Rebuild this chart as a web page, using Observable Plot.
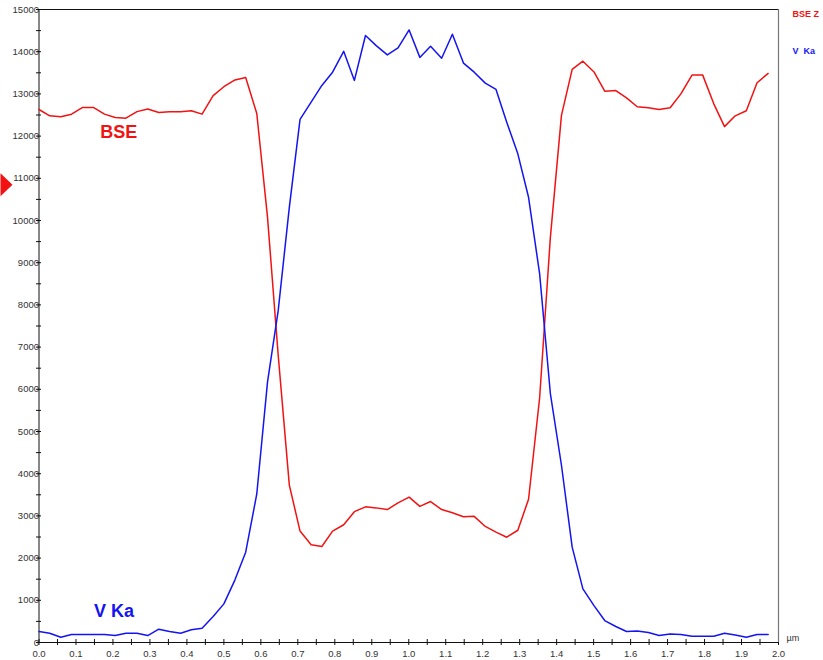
<!DOCTYPE html>
<html>
<head>
<meta charset="utf-8">
<script src="https://cdn.jsdelivr.net/npm/d3@7"></script>
<script src="https://cdn.jsdelivr.net/npm/@observablehq/plot@0.6"></script>
<style>
  html, body { margin: 0; padding: 0; background: #fff; }
  #chart { width: 823px; height: 660px; }
</style>
</head>
<body>
<div id="chart"></div>
<script>
// distance along the line scan (µm)
const distance = [0,0.029,0.059,0.088,0.118,0.147,0.177,0.206,0.235,0.265,0.294,0.324,0.353,0.383,0.412,0.441,0.471,0.500,0.530,0.559,0.589,0.618,0.647,0.677,0.706,0.736,0.765,0.794,0.824,0.853,0.883,0.912,0.942,0.971,1.001,1.030,1.059,1.089,1.118,1.148,1.177,1.207,1.236,1.265,1.295,1.324,1.354,1.383,1.413,1.442,1.471,1.501,1.530,1.560,1.589,1.618,1.648,1.677,1.707,1.736,1.766,1.795,1.825,1.854,1.883,1.913,1.942,1.972];

// BSE Z signal (red)
const bse = [12630,12480,12460,12520,12680,12680,12520,12440,12425,12580,12640,12560,12575,12575,12600,12520,12960,13170,13330,13390,12535,10080,6800,3730,2640,2315,2275,2640,2790,3100,3215,3190,3150,3310,3445,3225,3340,3150,3075,2980,2990,2750,2615,2495,2660,3395,5800,9600,12490,13580,13775,13520,13065,13080,12905,12695,12670,12630,12670,13000,13445,13445,12765,12225,12480,12600,13265,13485];

// V Ka signal (blue)
const vka = [260,220,125,190,190,190,190,165,220,220,165,315,260,220,300,340,615,915,1485,2140,3520,6170,7870,10310,12395,12805,13200,13515,14010,13320,14385,14145,13925,14090,14515,13865,14130,13845,14415,13730,13515,13255,13105,12330,11580,10550,8735,5900,4200,2260,1270,875,520,380,260,275,235,165,200,190,150,150,150,220,180,125,190,190];

const yTicks = [0,1000,2000,3000,4000,5000,6000,7000,8000,9000,10000,11000,12000,13000,14000,15000];
const yMinorTicks = [0,500,1000,1500,2000,2500,3000,3500,4000,4500,5000,5500,6000,6500,7000,7500,8000,8500,9000,9500,10000,10500,11000,11500,12000,12500,13000,13500,14000,14500,15000];
const xTicks = [0,0.1,0.2,0.3,0.4,0.5,0.6,0.7,0.8,0.9,1.0,1.1,1.2,1.3,1.4,1.5,1.6,1.7,1.8,1.9,2.0];
const xMinorTicks = [0,0.05,0.1,0.15,0.2,0.25,0.3,0.35,0.4,0.45,0.5,0.55,0.6,0.65,0.7,0.75,0.8,0.85,0.9,0.95,1.0,1.05,1.1,1.15,1.2,1.25,1.3,1.35,1.4,1.45,1.5,1.55,1.6,1.65,1.7,1.75,1.8,1.85,1.9,1.95,2.0];

const seriesNames = ["BSE Z", "V  Ka"];
const seriesColors = ["#f21212", "#1414f2"];
const markerLevel = [10850];

const bseRows = distance.map((d, i) => ({x: d, y: bse[i]}));
const vkaRows = distance.map((d, i) => ({x: d, y: vka[i]}));

const RED = seriesColors[0], BLUE = seriesColors[1];
const font = "Liberation Sans, Arial, sans-serif";

const chart = Plot.plot({
  width: 823,
  height: 660,
  marginLeft: 38.5,
  marginRight: 45,
  marginTop: 9,
  marginBottom: 18,
  style: {fontFamily: font, background: "#fff", overflow: "visible"},
  x: {domain: [0, 2], type: "linear"},
  y: {domain: [0, 15000], type: "linear"},
  marks: [
    // axis labels
    Plot.axisY({ticks: yTicks, tickSize: 0, tickPadding: 0, tickFormat: d => String(d), fontSize: 9.5, fill: "#333", label: null}),
    Plot.axisY({ticks: yMinorTicks, tickSize: 5, dx: 2.5, text: null, stroke: "#111", label: null}),
    Plot.axisX({ticks: xTicks, tickSize: 0, tickPadding: 8, tickFormat: d3.format(".1f"), fontSize: 9.5, fill: "#333", label: null}),
    Plot.axisX({ticks: xMinorTicks, tickSize: 6, dy: -3, text: null, stroke: "#111", label: null}),
    Plot.frame({stroke: "#111"}),
    Plot.ruleX([2], {stroke: "#777", strokeWidth: 1.2}),
    // data
    Plot.line(bseRows, {x: "x", y: "y", stroke: RED, strokeWidth: 1.5}),
    Plot.line(vkaRows, {x: "x", y: "y", stroke: BLUE, strokeWidth: 1.5}),
    // in-plot annotations
    Plot.text([{x: 0.216, y: 12100, t: "BSE"}], {x: "x", y: "y", text: "t", fill: RED, fontSize: 18, fontWeight: "bold"}),
    Plot.text([{x: 0.203, y: 740, t: "V Ka"}], {x: "x", y: "y", text: "t", fill: BLUE, fontSize: 18, fontWeight: "bold"}),
    // legend to the right of the frame
    Plot.text([seriesNames[0]], {frameAnchor: "top-right", text: d => d, dx: 14, dy: 1, textAnchor: "start", fill: RED, fontSize: 9, fontWeight: "bold"}),
    Plot.text([seriesNames[1]], {frameAnchor: "top-right", text: d => d, dx: 14, dy: 38, textAnchor: "start", fill: BLUE, fontSize: 9, fontWeight: "bold"}),
    // unit label
    Plot.text(["µm"], {frameAnchor: "bottom-right", text: d => d, dx: 8, dy: -2, textAnchor: "start", fill: "#333", fontSize: 9}),
    // marker on the left
    Plot.vector(markerLevel, {
      y: d => d, frameAnchor: "left", dx: -38.5, anchor: "start", rotate: 90, length: 12,
      fill: RED, stroke: "none",
      shape: {draw(context, l) { context.moveTo(-11.5, 0); context.lineTo(0, -l); context.lineTo(11.5, 0); context.closePath(); }}
    })
  ]
});

document.getElementById("chart").appendChild(chart);
</script>
</body>
</html>
